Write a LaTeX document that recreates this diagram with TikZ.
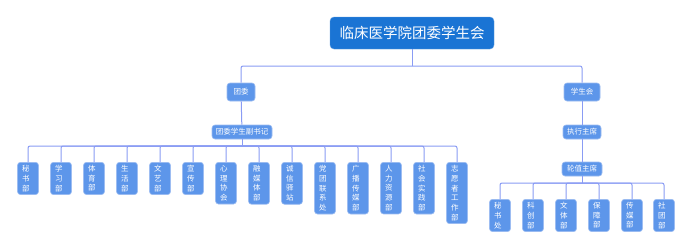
\documentclass[tikz,border=0pt]{standalone}
\usepackage{fontspec}
\usepackage{tikz}
\usetikzlibrary{positioning,calc}
\newfontfamily\cjk{Noto Sans CJK SC}
\definecolor{TitleBlue}{HTML}{1A74D4}
\definecolor{BoxBlue}{HTML}{5D96EA}
\definecolor{BoxEdge}{HTML}{9DBDF2}
\definecolor{LinkLilac}{HTML}{8A9CF4}
\tikzset{
  orgbox/.style={fill=BoxBlue, draw=BoxEdge, line width=0.6pt, rounded corners=3pt,
        text=white, font=\cjk\fontsize{7.5}{9}\selectfont, inner sep=0pt, align=center},
  topbox/.style={fill=TitleBlue, draw=TitleBlue!70!white, rounded corners=4pt, text=white,
        font=\cjk\fontsize{14.5}{17}\selectfont, minimum width=164pt, minimum height=32pt},
  dept/.style={orgbox, anchor=north, minimum width=21pt, inner ysep=3pt, align=left,
        text width=21pt, font=\cjk\fontsize{7.5}{9.7}\selectfont,
        execute at begin node={\leftskip=4.6pt}},
  link/.style={LinkLilac, line width=1pt, rounded corners=2pt}
}
\newcommand{\deptbox}[3]{%
  \node[dept] (#1) at (#2) {#3};}

\begin{document}
\begin{tikzpicture}[x=1pt, y=-1pt]
    \useasboundingbox[fill=white] (0,0) rectangle (692,250);
    \node[topbox] (college) at (412,33) {临床医学院团委学生会};
    \node[orgbox, minimum width=28pt, minimum height=18pt] (league) at (241,92) {团委};
    \node[orgbox, minimum width=36pt, minimum height=18pt] (union) at (582,92) {学生会};
    \node[orgbox, minimum width=60pt, minimum height=14pt] (deputy) at (242,132) {团委学生副书记};
    \node[orgbox, minimum width=38pt, minimum height=14pt] (exec) at (582,132) {执行主席};
    \node[orgbox, minimum width=40pt, minimum height=14pt] (rotating) at (582,169) {轮值主席};
    \coordinate (split) at (412,66);
    \coordinate (lbus) at (242,146);
    \coordinate (rbus) at (582,183);
    % departments under the league
    \deptbox{lsec}{28,162}{秘\\书\\部}
    \deptbox{lstudy}{61,162}{学\\习\\部}
    \deptbox{lsport}{94,162}{体\\育\\部}
    \deptbox{llife}{127,162}{生\\活\\部}
    \deptbox{lart}{160,162}{文\\艺\\部}
    \deptbox{lpub}{193,162}{宣\\传\\部}
    \deptbox{lpsy}{226,162}{心\\理\\协\\会}
    \deptbox{lmedia}{259,162}{融\\媒\\体\\部}
    \deptbox{lcredit}{292,162}{诚\\信\\驿\\站}
    \deptbox{lparty}{325,162}{党\\团\\联\\系\\处}
    \deptbox{lradio}{358,162}{广\\播\\传\\媒\\部}
    \deptbox{lhr}{391,162}{人\\力\\资\\源\\部}
    \deptbox{lpractice}{424,162}{社\\会\\实\\践\\部}
    \deptbox{lvolunteer}{457,162}{志\\愿\\者\\工\\作\\部}
    % departments under the union
    \deptbox{rsec}{500,199}{秘\\书\\处}
    \deptbox{rtech}{533,199}{科\\创\\部}
    \deptbox{rculture}{566,199}{文\\体\\部}
    \deptbox{rsupport}{599,199}{保\\障\\部}
    \deptbox{rmedia}{632,199}{传\\媒\\部}
    \deptbox{rclub}{664,199}{社\\团\\部}
    \draw[link] (college) -- (split);
    \draw[link] (league) |- (split);
    \draw[link] (union) |- (split);
    \draw[link] (league) -- (deputy);
    \draw[link] (union) -- (exec);
    \draw[link] (exec) -- (rotating);
    \draw[link] (deputy) -- (lbus);
    \draw[link] (rotating) -- (rbus);
    \draw[link] (lsec) |- (lbus);
    \draw[link] (lstudy) |- (lbus);
    \draw[link] (lsport) |- (lbus);
    \draw[link] (llife) |- (lbus);
    \draw[link] (lart) |- (lbus);
    \draw[link] (lpub) |- (lbus);
    \draw[link] (lpsy) |- (lbus);
    \draw[link] (lmedia) |- (lbus);
    \draw[link] (lcredit) |- (lbus);
    \draw[link] (lparty) |- (lbus);
    \draw[link] (lradio) |- (lbus);
    \draw[link] (lhr) |- (lbus);
    \draw[link] (lpractice) |- (lbus);
    \draw[link] (lvolunteer) |- (lbus);
    \draw[link] (rsec) |- (rbus);
    \draw[link] (rtech) |- (rbus);
    \draw[link] (rculture) |- (rbus);
    \draw[link] (rsupport) |- (rbus);
    \draw[link] (rmedia) |- (rbus);
    \draw[link] (rclub) |- (rbus);
  \end{tikzpicture}
\end{document}
